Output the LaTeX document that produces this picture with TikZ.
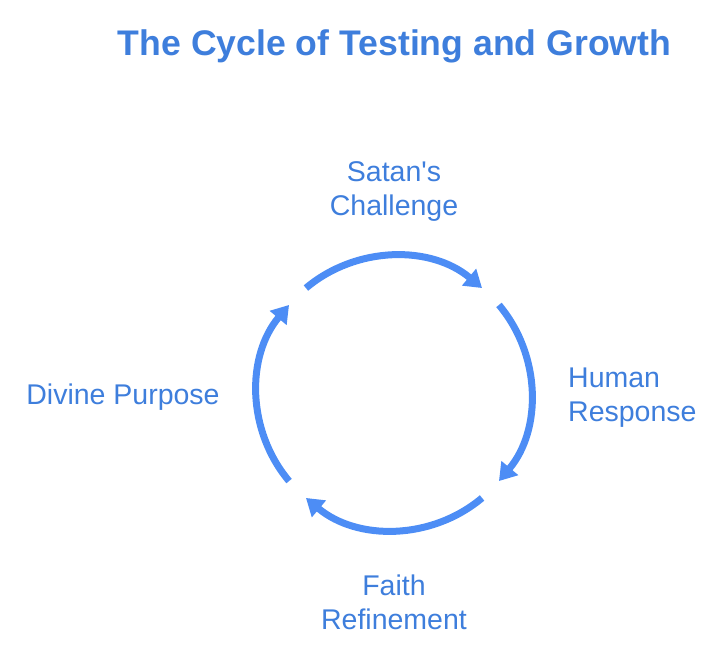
\documentclass[tikz,border=0pt]{standalone}
\usepackage{fontspec}
\setmainfont{Liberation Sans}
\usetikzlibrary{arrows.meta}
\definecolor{arcblue}{RGB}{77,141,245}
\definecolor{txtblue}{RGB}{62,126,220}
\begin{document}
\begin{tikzpicture}[x=1bp,y=-1bp,
  cyc/.style={draw=arcblue,line width=7bp,-{Triangle[length=17bp,width=21bp]}},
  lbl/.style={text=txtblue,font=\fontsize{28.5bp}{34bp}\selectfont,inner sep=0pt}]
\useasboundingbox (0,0) rectangle (720,652);
\node[text=txtblue,font=\fontsize{35.6bp}{42bp}\selectfont\bfseries,inner sep=0pt] (title) at (394.5,46) {The Cycle of Testing and Growth};
\coordinate (c) at (394,393);
\draw[cyc] (c) ++(-130:137) arc[start angle=-130,end angle=-50,radius=137];
\draw[cyc] (c) ++(-40:137) arc[start angle=-40,end angle=40,radius=137];
\draw[cyc] (c) ++(50:137) arc[start angle=50,end angle=130,radius=137];
\draw[cyc] (c) ++(140:137) arc[start angle=140,end angle=220,radius=137];
\node[lbl,align=center] (sat) at (394,192) {Satan\textquotesingle s\\Challenge};
\node[lbl,align=left,anchor=west] (hum) at (568,398) {Human\\Response};
\node[lbl,align=center] (fai) at (394,602) {Faith\\Refinement};
\node[lbl] (div) at (123,397) {Divine Purpose};
\end{tikzpicture}
\end{document}
